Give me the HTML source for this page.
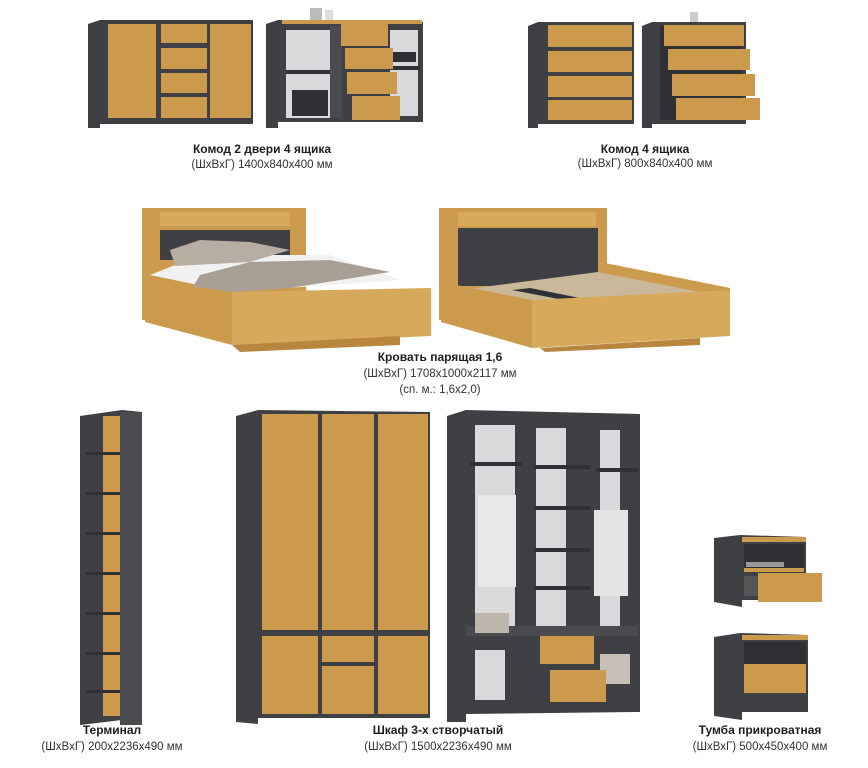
<!DOCTYPE html>
<html><head><meta charset="utf-8"><style>
html,body{margin:0;padding:0;background:#fff;width:868px;height:768px;overflow:hidden}
svg{display:block}
text{font-family:"Liberation Sans",sans-serif;fill:#1e1e1e}
.t{font-weight:bold;font-size:12px}
.s{font-size:11.5px;fill:#333}
.d{fill:#3f4043}.dd{fill:#2f3033}.o{fill:#cc9a4c}.o2{fill:#d7a95c}.l{fill:#d9d9db}.m{fill:#4a4b4e}
</style></head><body>
<svg width="868" height="768" viewBox="0 0 868 768">
<!-- Komod 2 doors closed -->
<polygon class="d" points="88,24 100,20 253,20 253,124 100,124 100,128 88,128"/>
<rect class="o" x="108" y="24" width="48" height="94"/>
<rect class="o" x="161" y="24" width="46" height="19"/>
<rect class="o" x="161" y="48" width="46" height="21"/>
<rect class="o" x="161" y="73" width="46" height="20"/>
<rect class="o" x="161" y="97" width="46" height="21"/>
<rect class="o" x="210" y="24" width="41" height="94"/>
<!-- Komod 2 doors open -->
<polygon class="d" points="266,24 278,20 423,22 423,122 278,122 278,128 266,128"/>
<rect class="o" x="282" y="20" width="140" height="4"/>
<rect class="l" x="286" y="30" width="44" height="88"/>
<rect class="m" x="330" y="26" width="12" height="92"/>
<rect class="l" x="390" y="30" width="28" height="86"/>
<rect class="dd" x="286" y="70" width="44" height="4"/>
<rect class="dd" x="292" y="90" width="36" height="26"/>
<rect class="dd" x="392" y="52" width="24" height="10"/>
<rect class="dd" x="390" y="66" width="30" height="4"/>
<rect class="o" x="341" y="24" width="47" height="22"/>
<rect class="o" x="345" y="48" width="48" height="21"/>
<rect class="o" x="347" y="72" width="50" height="22"/>
<rect class="o" x="352" y="96" width="48" height="24"/>
<rect x="310" y="8" width="12" height="12" fill="#bbb"/><rect x="325" y="10" width="8" height="10" fill="#ddd"/>
<text class="t" x="262" y="153" text-anchor="middle">Комод 2 двери 4 ящика</text>
<text class="s" x="262" y="168" text-anchor="middle">(ШхВхГ) 1400х840х400 мм</text>
<!-- Komod 4 closed -->
<polygon class="d" points="528,26 538,22 634,22 634,124 538,124 538,128 528,128"/>
<rect class="o" x="548" y="25" width="84" height="22"/>
<rect class="o" x="548" y="51" width="84" height="21"/>
<rect class="o" x="548" y="76" width="84" height="21"/>
<rect class="o" x="548" y="100" width="84" height="20"/>
<!-- Komod 4 open -->
<polygon class="d" points="642,26 652,22 746,22 746,124 652,124 652,128 642,128"/>
<rect class="dd" x="660" y="26" width="82" height="94"/>
<rect class="o" x="664" y="25" width="80" height="21"/>
<rect class="o" x="668" y="49" width="82" height="21"/>
<rect class="o" x="672" y="74" width="83" height="22"/>
<rect class="o" x="676" y="98" width="84" height="22"/>
<rect x="690" y="12" width="8" height="10" fill="#ccc"/>
<text class="t" x="645" y="153" text-anchor="middle">Комод 4 ящика</text>
<text class="s" x="645" y="167" text-anchor="middle">(ШхВхГ) 800х840х400 мм</text>
<!-- Bed 1 -->
<rect class="o" x="142" y="208" width="164" height="112"/>
<rect class="o2" x="160" y="212" width="130" height="14"/>
<rect class="d" x="160" y="230" width="130" height="30"/>
<polygon fill="#f1f1f1" points="150,275 200,255 330,255 400,280 232,292"/>
<polygon fill="#b8ada3" points="170,250 200,240 250,242 290,250 250,262 175,266"/>
<polygon fill="#a89e94" points="200,275 250,262 330,260 390,272 290,288 235,292 210,330 185,300"/>
<polygon class="o" points="145,280 232,292 232,345 145,322"/>
<polygon class="o2" points="232,292 431,288 431,336 232,345"/>
<polygon fill="#b8863e" points="232,345 400,336 400,345 240,352"/>
<!-- Bed 2 -->
<rect class="o" x="439" y="208" width="168" height="112"/>
<rect class="o2" x="458" y="212" width="138" height="14"/>
<rect class="d" x="458" y="228" width="140" height="58"/>
<polygon class="o" points="600,262 730,288 730,300 600,275"/>
<polygon fill="#c9b79a" points="460,290 598,272 700,292 540,305"/>
<polygon fill="#2f3033" points="512,290 530,288 590,300 574,302"/>
<polygon class="o" points="441,282 532,300 532,348 441,322"/>
<polygon class="o2" points="532,300 730,290 730,336 532,348"/>
<polygon fill="#b8863e" points="540,348 700,338 700,345 545,352"/>
<text class="t" x="440" y="361" text-anchor="middle">Кровать парящая 1,6</text>
<text class="s" x="440" y="377" text-anchor="middle">(ШхВхГ) 1708х1000х2117 мм</text>
<text class="s" x="440" y="393" text-anchor="middle">(сп. м.: 1,6х2,0)</text>
<!-- Terminal -->
<polygon class="d" points="80,416 122,410 142,412 142,725 122,720 80,725"/>
<rect class="o" x="103" y="416" width="17" height="300"/>
<g class="dd">
<rect x="86" y="452" width="34" height="3"/><rect x="86" y="492" width="34" height="3"/><rect x="86" y="532" width="34" height="3"/><rect x="86" y="572" width="34" height="3"/><rect x="86" y="612" width="34" height="3"/><rect x="86" y="652" width="34" height="3"/><rect x="86" y="690" width="34" height="3"/>
</g>
<rect class="m" x="120" y="412" width="22" height="313"/>
<text class="t" x="112" y="734" text-anchor="middle">Терминал</text>
<text class="s" x="112" y="750" text-anchor="middle">(ШхВхГ) 200х2236х490 мм</text>
<!-- Wardrobe closed -->
<polygon class="d" points="236,416 258,410 430,412 430,718 258,718 258,724 236,722"/>
<rect class="o" x="262" y="414" width="56" height="216"/>
<rect class="o" x="322" y="414" width="52" height="216"/>
<rect class="o" x="378" y="414" width="50" height="216"/>
<rect class="o" x="262" y="636" width="56" height="78"/>
<rect class="o" x="322" y="636" width="52" height="26"/>
<rect class="o" x="322" y="666" width="52" height="48"/>
<rect class="o" x="378" y="636" width="50" height="78"/>
<!-- Wardrobe open -->
<polygon class="d" points="447,416 466,410 640,414 640,712 466,714 466,722 447,722"/>
<rect class="l" x="475" y="425" width="40" height="210"/>
<rect class="l" x="536" y="428" width="30" height="200"/>
<rect class="l" x="600" y="430" width="20" height="200"/>
<rect class="l" x="475" y="650" width="30" height="50"/>
<rect class="dd" x="470" y="462" width="52" height="4"/><rect class="dd" x="534" y="465" width="56" height="4"/><rect class="dd" x="596" y="468" width="42" height="4"/>
<rect class="dd" x="534" y="506" width="56" height="4"/><rect class="dd" x="534" y="548" width="56" height="4"/><rect class="dd" x="534" y="586" width="56" height="4"/>
<rect class="m" x="466" y="626" width="172" height="10"/>
<rect fill="#e8e8e8" x="478" y="495" width="38" height="92"/>
<rect fill="#e4e4e4" x="594" y="510" width="34" height="86"/>
<rect fill="#bdb6ad" x="475" y="613" width="34" height="20"/>
<rect fill="#c8c0b6" x="600" y="654" width="30" height="30"/>
<rect class="o" x="540" y="636" width="54" height="28"/>
<rect class="o" x="550" y="670" width="56" height="32"/>
<text class="t" x="438" y="734" text-anchor="middle">Шкаф 3-х створчатый</text>
<text class="s" x="438" y="750" text-anchor="middle">(ШхВхГ) 1500х2236х490 мм</text>
<!-- Nightstand open -->
<polygon class="d" points="714,538 740,535 806,537 806,600 742,600 742,607 714,602"/>
<rect class="o" x="742" y="537" width="64" height="5"/>
<rect class="dd" x="744" y="544" width="60" height="24"/>
<rect class="o" x="744" y="568" width="60" height="4"/>
<rect fill="#999" x="746" y="562" width="38" height="5"/>
<rect class="o" x="758" y="573" width="64" height="29"/>
<rect fill="#555" x="744" y="576" width="14" height="20"/>
<!-- Nightstand closed -->
<polygon class="d" points="714,637 740,633 808,635 808,712 742,712 742,720 714,716"/>
<rect class="o" x="742" y="635" width="66" height="5"/>
<rect class="dd" x="744" y="642" width="62" height="22"/>
<rect class="o" x="744" y="664" width="62" height="29"/>
<text class="t" x="760" y="734" text-anchor="middle">Тумба прикроватная</text>
<text class="s" x="760" y="750" text-anchor="middle">(ШхВхГ) 500х450х400 мм</text>
</svg>
</body></html>
